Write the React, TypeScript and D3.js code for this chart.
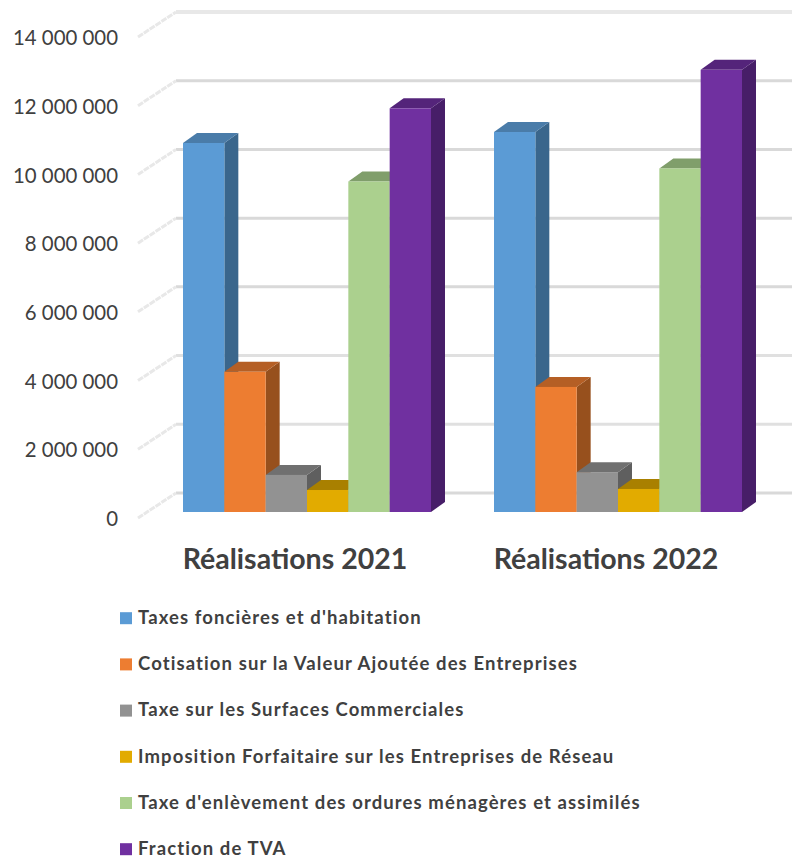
import React from "react";
import * as d3 from "d3";

const categories = ["Réalisations 2021", "Réalisations 2022"];
const seriesNames = [
  "Taxes foncières et d'habitation",
  "Cotisation sur la Valeur Ajoutée des Entreprises",
  "Taxe sur les Surfaces Commerciales",
  "Imposition Forfaitaire sur les Entreprises de Réseau",
  "Taxe d'enlèvement des ordures ménagères et assimilés",
  "Fraction de TVA",
];
const taxesFoncieres = [10740000, 11060000];
const cotisation = [4080000, 3640000];
const surfaces = [1080000, 1160000];
const imposition = [640000, 670000];
const enlevement = [9620000, 10000000];
const fractionTva = [11750000, 12870000];
const seriesValues = [taxesFoncieres, cotisation, surfaces, imposition, enlevement, fractionTva];
const ticks = [0, 2000000, 4000000, 6000000, 8000000, 10000000, 12000000, 14000000];
const tickLabels = ["0", "2 000 000", "4 000 000", "6 000 000", "8 000 000", "10 000 000", "12 000 000", "14 000 000"];
const frontColors = ["#5B9BD5", "#ED7D31", "#929292", "#E2AB00", "#ABD08E", "#7030A0"];
const topColors = ["#4A7CA9", "#B55F25", "#707070", "#A98000", "#809E6B", "#54247A"];
const sideColors = ["#3A668C", "#97501D", "#5F5F5F", "#8A6A00", "#6B8759", "#471E68"];

const DX = 14;
const DY = 10;
const FONT = "Lato, Carlito, sans-serif";

export default function App() {
  const y = d3.scaleLinear().domain([0, 14000000]).range([512, 31]);
  const x0 = d3.scaleBand<string>().domain(categories).range([151.5, 773.5]);
  const x1 = d3.scaleBand<number>().domain(d3.range(6)).range([x0.bandwidth() / 2 - 124, x0.bandwidth() / 2 + 124]);
  const w = x1.bandwidth();
  const poly = (pts: [number, number][]) => d3.line()(pts) + "Z";

  return (
    <svg width={792} height={859} style={{ position: "absolute", left: 0, top: 0, background: "#fff" }}>
      {ticks.map((t, i) => (
        <g key={t}>
          <line x1={176} x2={792} y1={y(t) - 19} y2={y(t) - 19}
            stroke={i === 7 ? "#E8E8E8" : i === 1 || i === 2 ? "#E0E0E0" : "#D9D9D9"} strokeWidth={i === 7 ? 4.2 : 3} />
          <line x1={138} y1={y(t) + 6} x2={176} y2={y(t) - 19} stroke="#E8E8E8" strokeWidth={3} strokeDasharray="6 1" />
          <text x={118} y={y(t) + 7} dy="0.35em" textAnchor="end" fontFamily={FONT} fontSize={20.4} fill="#404040">
            {tickLabels[i]}
          </text>
        </g>
      ))}
      {categories.map((c, ci) => (
        <g key={c} transform={`translate(${x0(c)},0)`}>
          {seriesValues.map((vals, si) => {
            const left = x1(si) as number;
            const right = left + w;
            const t = y(vals[ci]);
            const b = y(0);
            return (
              <g key={si}>
                <path d={poly([[right, t], [right + DX, t - DY], [right + DX, b - DY], [right, b]])} fill={sideColors[si]} />
                <path d={poly([[left, t], [left + DX, t - DY], [right + DX, t - DY], [right, t]])} fill={topColors[si]} />
                <rect x={left} y={t} width={w} height={b - t} fill={frontColors[si]} />
              </g>
            );
          })}
          <text x={x0.bandwidth() / 2 - 12} y={559} dy="0.35em" textAnchor="middle" fontFamily={FONT} fontWeight={700} fontSize={28.5} fill="#404040">
            {c}
          </text>
        </g>
      ))}
      {seriesNames.map((name, i) => {
        const ly = 618.2 + i * 46.2;
        return (
          <g key={name}>
            <rect x={120} y={ly - 6} width={12} height={12} fill={frontColors[i]} />
            <text x={138} y={ly} dy="0.31em" fontFamily={FONT} fontWeight={700} fontSize={18.5} letterSpacing={1.1} fill="#404040">
              {name}
            </text>
          </g>
        );
      })}
    </svg>
  );
}
